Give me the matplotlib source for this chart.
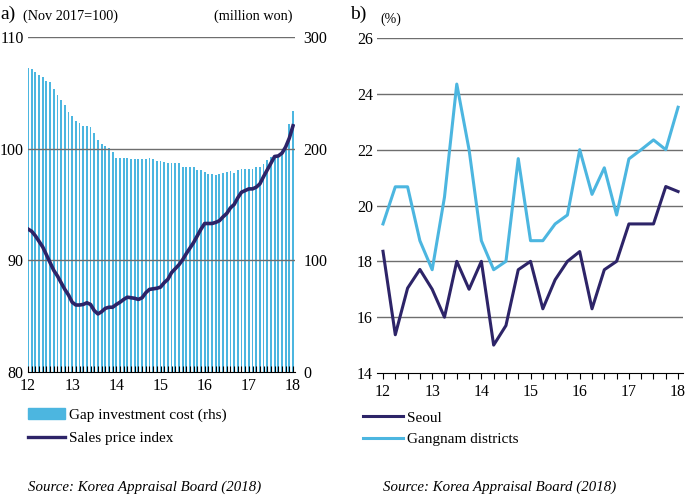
import numpy as np
import matplotlib
matplotlib.use('Agg')
import matplotlib.pyplot as plt
from matplotlib.patches import Patch
from matplotlib.lines import Line2D

plt.rcParams['font.family'] = ['Liberation Serif', 'DejaVu Serif']

# panel a: monthly, Jan 2012 .. Jan 2018
gap_cost = [272.5, 271, 268.6, 265.6, 264.4, 260.5, 259.6, 253.6, 248.5, 243.4,
            239.5, 232.6, 229, 224.6, 223, 220.7, 220.7, 219.5, 214, 207.5,
            204.5, 202, 200.6, 196.7, 191.6, 191.6, 191.6, 191.6, 190.7, 190.5,
            190.5, 190.5, 190.7, 191.3, 190.5, 189.2, 188.8, 188, 187, 187,
            187, 187, 184, 184, 184, 184, 181, 181, 178.7, 177.5,
            177.5, 176, 177.5, 178, 179, 179.6, 178, 181, 182, 182,
            182, 182, 183.5, 183.5, 186.2, 190, 192.5, 194, 194.6, 196,
            199, 222.5, 234]
sales_index = [92.8, 92.6, 92.2, 91.7, 91.2, 90.5, 89.8, 89.1, 88.6, 88.0,
               87.4, 86.9, 86.25, 86.0, 86.0, 86.05, 86.2, 86.05, 85.5, 85.2,
               85.4, 85.7, 85.8, 85.8, 86.05, 86.25, 86.5, 86.7, 86.65, 86.6,
               86.5, 86.65, 87.1, 87.4, 87.45, 87.5, 87.6, 88.0, 88.3, 88.9,
               89.25, 89.6, 90.05, 90.6, 91.1, 91.6, 92.2, 92.8, 93.3, 93.3,
               93.3, 93.4, 93.55, 93.9, 94.2, 94.7, 95.0, 95.6, 96.1, 96.25,
               96.4, 96.4, 96.55, 96.85, 97.5, 98.1, 98.7, 99.3, 99.35, 99.6,
               100.15, 100.95, 102.05]

# panel b: quarterly, 2012Q1 .. 2018Q1
seoul = [18.36, 15.37, 17.04, 17.71, 17.0, 16.0, 18.0, 17.0, 18.0, 15.0,
         15.7, 17.7, 18.0, 16.3, 17.34, 18.0, 18.35, 16.3, 17.7, 18.0,
         19.34, 19.34, 19.34, 20.68, 20.5]
gangnam = [19.34, 20.67, 20.67, 18.74, 17.7, 20.3, 24.35, 22.0, 18.74, 17.7,
           18.0, 21.68, 18.74, 18.74, 19.34, 19.66, 22.0, 20.4, 21.35, 19.66,
           21.67, 22.0, 22.35, 22.0, 23.52]

years = ['12', '13', '14', '15', '16', '17', '18']

BLUE = '#4cb6e0'
NAVY = '#2d2468'
GRID = '#6e6e6e'

x_m = 12 + np.arange(len(gap_cost)) / 12
x_q = 12 + np.arange(len(seoul)) / 4
yr_pos = 12 + np.arange(len(years))

fig = plt.figure(figsize=(6.85, 4.97), dpi=100)

# ---- panel a
axb = fig.add_axes([28/685, 0.2515, 267/685, 0.674])
axb.bar(x_m, gap_cost, width=0.042, color=BLUE, zorder=1)
axb.set_ylim(0, 300)
axb.set_xlim(12, 18.045)
axb.set_xticks(yr_pos)
axb.set_xticklabels(years)
axb.set_xticks(x_m, minor=True)
axb.tick_params(axis='x', which='both', direction='in', length=4, width=0.8, labelsize=11.5, pad=4)
for v in [100, 200, 300]:
    axb.axhline(v, color=GRID, lw=1.0, zorder=2)

axl = axb.twinx()
axl.plot(x_m, sales_index, color=NAVY, lw=2.6, zorder=3)
axl.set_ylim(80, 110)

# twinx moves the host ticks to the left, so place both sides afterwards
axb.yaxis.tick_right()
axb.set_yticks([0, 100, 200, 300])
axb.tick_params(axis='y', length=0, labelsize=11.5, pad=6)
axl.yaxis.tick_left()
axl.set_yticks([80, 90, 100, 110])
axl.tick_params(axis='y', length=0, labelsize=11.5, pad=3)
for ax in (axb, axl):
    for s in ['left', 'right', 'top']:
        ax.spines[s].set_visible(False)
axl.spines['bottom'].set_visible(False)

fig.text(0.0, 1 - 14/497, 'a)', fontsize=14, va='center', ha='left')
fig.text(23/685, 1 - 16/497, '(Nov 2017=100)', fontsize=10.3, va='center', ha='left')
fig.text(293/685, 1 - 16/497, '(million won)', fontsize=10.3, va='center', ha='right')

fig.legend(handles=[Patch(color=BLUE, label='Gap investment cost (rhs)'),
                    Line2D([], [], color=NAVY, lw=2.4, label='Sales price index')],
           loc='upper left', bbox_to_anchor=(28/685, 1 - 408/497), frameon=False,
           fontsize=11, handlelength=2.4, handletextpad=0.3, labelspacing=0.65,
           borderaxespad=0, borderpad=0)

fig.text(28/685, 1 - 487/497, 'Source: Korea Appraisal Board (2018)',
         fontsize=10.7, style='italic', va='center', ha='left')

# ---- panel b
ax2 = fig.add_axes([377/685, 0.2495, 306/685, 0.674])
ax2.plot(x_q, seoul, color=NAVY, lw=2.2, label='Seoul', zorder=3)
ax2.plot(x_q, gangnam, color=BLUE, lw=2.2, label='Gangnam districts', zorder=3)
ax2.set_xlim(11.878, 18.10)
ax2.set_ylim(14, 26)
ax2.set_yticks(np.arange(14, 27, 2))
for v in range(16, 27, 2):
    ax2.axhline(v, color=GRID, lw=1.0, zorder=1)
for s in ['left', 'right', 'top']:
    ax2.spines[s].set_visible(False)
ax2.spines['bottom'].set_linewidth(0.8)
ax2.set_xticks(yr_pos)
ax2.set_xticklabels(years)
ax2.set_xticks(x_q, minor=True)
ax2.tick_params(axis='x', which='both', direction='out', length=4, width=0.8, labelsize=11.5, pad=4)
ax2.tick_params(axis='y', length=0, labelsize=11.5, pad=3)

fig.text(350/685, 1 - 14/497, 'b)', fontsize=14, va='center', ha='left')
fig.text(380/685, 1 - 19/497, '(%)', fontsize=10, va='center', ha='left')

ax2.legend(loc='upper left', bbox_to_anchor=(363/685, 1 - 411/497),
           bbox_transform=fig.transFigure, frameon=False, fontsize=11,
           handlelength=2.6, handletextpad=0.3, labelspacing=0.5, borderaxespad=0,
           borderpad=0)

fig.text(383/685, 1 - 487/497, 'Source: Korea Appraisal Board (2018)',
         fontsize=10.7, style='italic', va='center', ha='left')

fig.savefig('out.png', dpi=100)
